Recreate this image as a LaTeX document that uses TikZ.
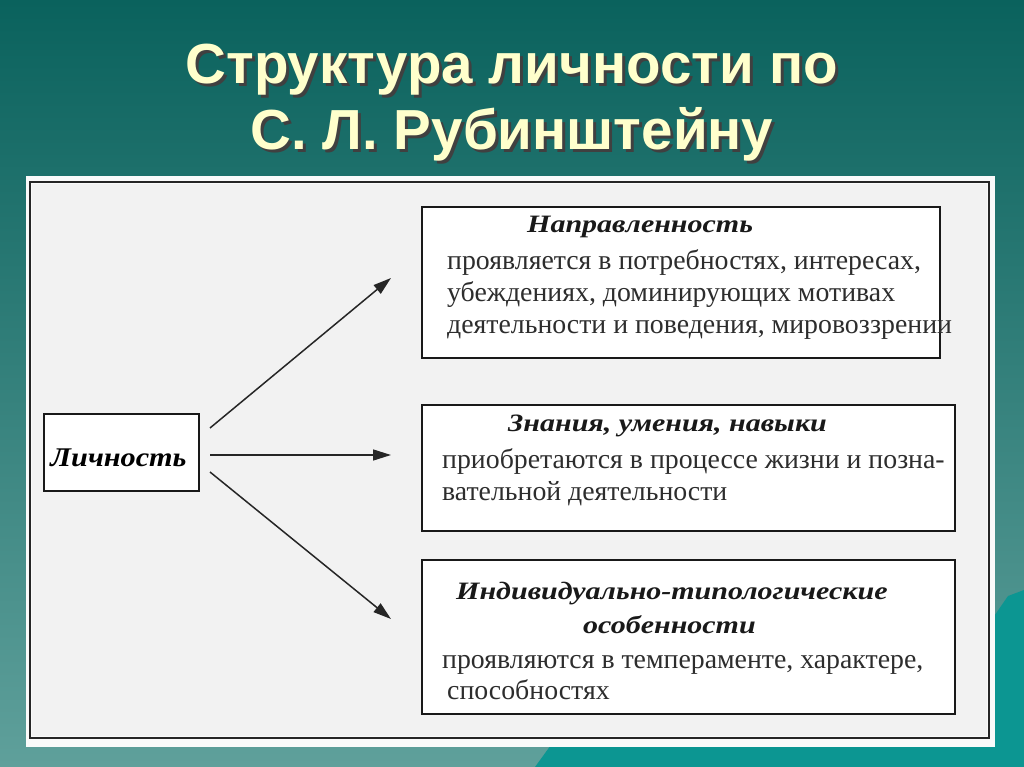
\documentclass[tikz,border=0pt]{standalone}
\usepackage{fontspec}
\setmainfont{Liberation Serif}
\newfontfamily\titlefont{Liberation Sans}
\usetikzlibrary{arrows.meta}
\definecolor{bgtop}{RGB}{10,98,93}
\definecolor{bgbot}{RGB}{95,160,155}
\definecolor{mount}{RGB}{12,150,146}
\definecolor{titlecol}{RGB}{255,255,204}
\definecolor{panelcol}{RGB}{242,242,242}
\definecolor{panelrim}{RGB}{250,250,250}
\definecolor{bodytext}{RGB}{45,45,45}
\newcommand{\shadowtext}[1]{\makebox[0pt][l]{\hspace{3pt}\raisebox{-3pt}{\color{black!75}#1}}#1}
\newcommand{\widehead}[1]{\scalebox{1.2}[1]{#1}}
\tikzset{
  box/.style={draw=black!90, line width=1.5pt, fill=white, inner sep=0pt},
  ttl/.style={anchor=base, text=titlecol, font=\titlefont\bfseries\fontsize{56.5}{60}\selectfont, inner sep=0pt},
  head/.style={anchor=base west, inner sep=0pt, font=\bfseries\itshape\fontsize{25}{28}\selectfont, text=black!90},
  body/.style={anchor=base west, inner sep=0pt, font=\fontsize{27.8}{31}\selectfont, text=bodytext},
  arr/.style={draw=black!85, line width=1.5pt, -{Triangle[length=18pt,width=11pt]}}
}
\begin{document}
\begin{tikzpicture}[x=1pt,y=-1pt]
\useasboundingbox (0,0) rectangle (1024,767);
\shade[top color=bgtop, bottom color=bgbot] (0,0) rectangle (1024,767);
\fill[mount] (535,767) -- (556,738) -- (990,622) -- (1008,596) -- (1024,590) -- (1024,767) -- cycle;
% title
\node[ttl] (t1) at (512,84) {\shadowtext{Структура личности по}};
\node[ttl] (t2) at (512,150) {\shadowtext{С. Л. Рубинштейну}};
% panel
\fill[panelrim] (26,176) rectangle (995,747);
\fill[panelcol] (32,184) rectangle (987,736);
\draw[black!85, line width=1.5pt] (30,182) rectangle (989,738);
% boxes
\node[box, minimum width=155pt, minimum height=77pt] (lich) at (121.5,452.5) {};
\node[anchor=base, inner sep=0pt, font=\bfseries\itshape\fontsize{27}{30}\selectfont] (lichtxt) at (118.5,466) {\scalebox{1.12}[1]{Личность}};
\node[box, minimum width=518pt, minimum height=151pt] (b1) at (681,282.5) {};
\node[box, minimum width=533pt, minimum height=126pt] (b2) at (688.5,468) {};
\node[box, minimum width=533pt, minimum height=154pt] (b3) at (688.5,637) {};
% box 1 text
\node[head] (h1) at (527,233) {\widehead{Направленность}};
\node[body] (l11) at (447,269) {проявляется в потребностях, интересах,};
\node[body] (l12) at (447,301) {убеждениях, доминирующих мотивах};
\node[body] (l13) at (447,333) {деятельности и поведения, мировоззрении};
% box 2 text
\node[head] (h2) at (508,431) {\widehead{Знания, умения, навыки}};
\node[body] (l21) at (442,468) {приобретаются в процессе жизни и позна-};
\node[body] (l22) at (442,500) {вательной деятельности};
% box 3 text
\node[head] (h3) at (456,599) {\widehead{Индивидуально-типологические}};
\node[head] (h3b) at (583,633) {\widehead{особенности}};
\node[body] (l31) at (442,668) {проявляются в темпераменте, характере,};
\node[body] (l32) at (447,699) {способностях};
% arrows
\coordinate (s1) at (210,428);
\coordinate (s2) at (210,455);
\coordinate (s3) at (210,472);
\coordinate (e1) at (391,278);
\coordinate (e2) at (391,455);
\coordinate (e3) at (391,619);
\draw[arr] (s1) -- (e1);
\draw[arr] (s2) -- (e2);
\draw[arr] (s3) -- (e3);
\end{tikzpicture}
\end{document}
